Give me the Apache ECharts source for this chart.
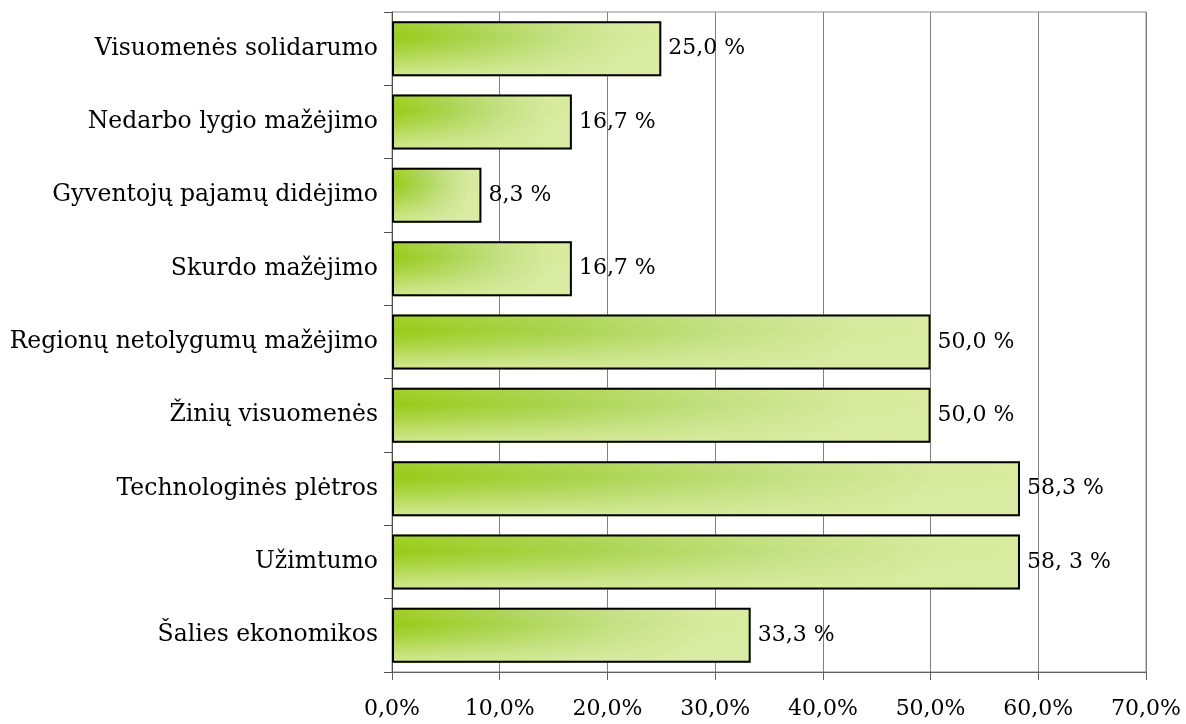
<!DOCTYPE html>
<html>
<head>
<meta charset="utf-8">
<script src="https://cdn.jsdelivr.net/npm/echarts@6/dist/echarts.min.js"></script>
<style>
  html, body { margin: 0; padding: 0; background: #ffffff; }
  #chart { width: 1186px; height: 724px; }
</style>
</head>
<body>
<div id="chart"></div>
<script>
// Categories, top to bottom
const categories = [
  'Visuomenės solidarumo',
  'Nedarbo lygio mažėjimo',
  'Gyventojų pajamų didėjimo',
  'Skurdo mažėjimo',
  'Regionų netolygumų mažėjimo',
  'Žinių visuomenės',
  'Technologinės plėtros',
  'Užimtumo',
  'Šalies ekonomikos'
];
// Share of answers, %
const values = [25.0, 16.7, 8.3, 16.7, 50.0, 50.0, 58.3, 58.3, 33.3];
// Value labels as printed beside the bars
const valueLabels = ['25,0 %', '16,7 %', '8,3 %', '16,7 %', '50,0 %', '50,0 %', '58,3 %', '58, 3 %', '33,3 %'];
// Axis tick labels
const xTickLabels = ['0,0%', '10,0%', '20,0%', '30,0%', '40,0%', '50,0%', '60,0%', '70,0%'];

const FONT = 'DejaVu Serif';
const chart = echarts.init(document.getElementById('chart'), null, { renderer: 'canvas' });

// Horizontal green-to-pale fill, with a pale wash rising from the bottom edge on top of it
const baseFill = new echarts.graphic.LinearGradient(0, 0, 1, 0, [
  { offset: 0, color: '#98cb18' },
  { offset: 0.3, color: '#a9d34c' },
  { offset: 0.6, color: '#c2df80' },
  { offset: 0.85, color: '#d6e99b' },
  { offset: 1, color: '#d9eb9e' }
]);
const shadeFill = new echarts.graphic.LinearGradient(0, 0, 0, 1, [
  { offset: 0, color: 'rgba(220,238,170,0.15)' },
  { offset: 0.3, color: 'rgba(220,238,170,0)' },
  { offset: 0.55, color: 'rgba(220,238,170,0.25)' },
  { offset: 1, color: 'rgba(218,236,160,0.9)' }
]);

chart.setOption({
  animation: false,
  grid: {
    left: 392, right: 40, top: 12, bottom: 52,
    show: true, borderColor: '#8c8c8c', borderWidth: 1, backgroundColor: 'transparent'
  },
  xAxis: {
    type: 'value',
    min: 0, max: 70, interval: 10,
    axisLine: { show: true, lineStyle: { color: '#606060', width: 1 } },
    axisTick: { show: true, length: 8, lineStyle: { color: '#606060' } },
    splitLine: { show: true, lineStyle: { color: '#808080', width: 1 } },
    axisLabel: {
      margin: 26,
      fontFamily: FONT, fontSize: 22, color: '#000',
      formatter: (v) => xTickLabels[Math.round(v / 10)]
    }
  },
  yAxis: {
    type: 'category',
    data: categories,
    inverse: true,
    axisLine: { show: true, lineStyle: { color: '#505050', width: 1 } },
    axisTick: { show: true, length: 8, lineStyle: { color: '#505050' } },
    axisLabel: { margin: 14, fontFamily: FONT, fontSize: 23.5, color: '#000' }
  },
  series: [
    {
      type: 'bar',
      data: values,
      barCategoryGap: '25%',
      itemStyle: { color: baseFill },
      silent: true
    },
    {
      type: 'bar',
      data: values,
      barGap: '-100%',
      barCategoryGap: '25%',
      itemStyle: { color: shadeFill, borderColor: '#000', borderWidth: 2 },
      label: {
        show: true, position: 'right', distance: 7,
        fontFamily: FONT, fontSize: 22, color: '#000',
        formatter: (p) => valueLabels[p.dataIndex]
      }
    }
  ]
});
</script>
</body>
</html>
